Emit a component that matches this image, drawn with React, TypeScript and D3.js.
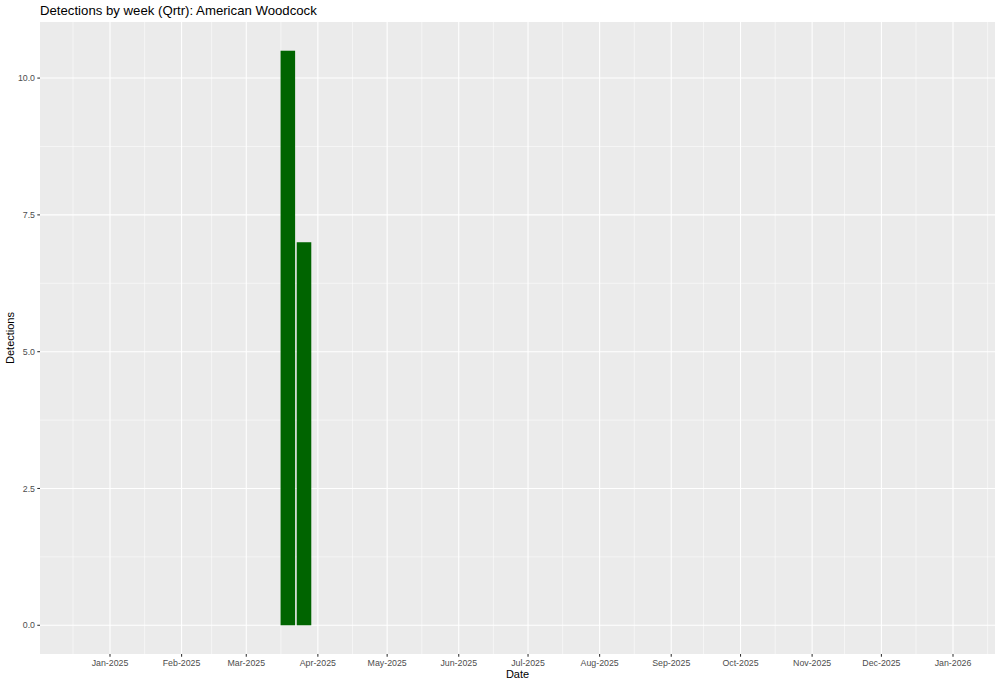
import React from "react";
import * as d3 from "d3";

const weekDates = ["2025-03-19", "2025-03-26"];
const detections = [10.5, 7];
const yTicks = [0, 2.5, 5, 7.5, 10];
const xTickDates = ["2025-01-01","2025-02-01","2025-03-01","2025-04-01","2025-05-01","2025-06-01","2025-07-01","2025-08-01","2025-09-01","2025-10-01","2025-11-01","2025-12-01","2026-01-01"];
const xMinorDates = ["2024-12-16","2025-01-16","2025-02-14","2025-03-16","2025-04-16","2025-05-16","2025-06-16","2025-07-16","2025-08-16","2025-09-15","2025-10-16","2025-11-15","2025-12-16","2026-01-16"];

const W = 1000, H = 685;
const left = 40, right = 995, top = 22, bottom = 654;
const parse = (s: string) => new Date(s + "T00:00:00Z");
const fmt = d3.utcFormat("%b-%Y");

export default function App() {
  const dayPx = (953 - 110) / 365;
  const jan = parse("2025-01-01").getTime();
  const d0 = new Date(jan - (110 - left) / dayPx * 864e5);
  const d1 = new Date(jan + (right - 110) / dayPx * 864e5);
  const x = d3.scaleUtc().domain([d0, d1]).range([left, right]);
  const y = d3.scaleLinear().domain([-0.525, 11.025]).range([bottom, top]);
  const yMinor = [1.25, 3.75, 6.25, 8.75];
  const barW = 6.3 * dayPx;
  const font = "'Liberation Sans', Arial, sans-serif";

  return (
    <svg width={W} height={H} style={{ position: "absolute", left: 0, top: 0, fontFamily: font }}>
      <rect x={0} y={0} width={W} height={H} fill="#fff" />
      <rect x={left} y={top} width={right - left} height={bottom - top} fill="#EBEBEB" />
      {yMinor.map((v) => (
        <line key={"ym" + v} x1={left} x2={right} y1={y(v)} y2={y(v)} stroke="#fff" strokeWidth={0.53} />
      ))}
      {xMinorDates.map((d) => (
        <line key={"xm" + d} x1={x(parse(d))} x2={x(parse(d))} y1={top} y2={bottom} stroke="#fff" strokeWidth={0.53} />
      ))}
      {yTicks.map((v) => (
        <line key={"y" + v} x1={left} x2={right} y1={y(v)} y2={y(v)} stroke="#fff" strokeWidth={1.07} />
      ))}
      {xTickDates.map((d) => (
        <line key={"x" + d} x1={x(parse(d))} x2={x(parse(d))} y1={top} y2={bottom} stroke="#fff" strokeWidth={1.07} />
      ))}
      {weekDates.map((d, i) => {
        const cx = x(parse(d));
        return (
          <rect key={d} x={cx - barW / 2} y={y(detections[i])} width={barW} height={y(0) - y(detections[i])} fill="#006400" />
        );
      })}
      {yTicks.map((v) => (
        <g key={"yt" + v}>
          <line x1={left - 2.7} x2={left} y1={y(v)} y2={y(v)} stroke="#333" strokeWidth={1.07} />
          <text x={left - 5} y={y(v)} dy="0.35em" textAnchor="end" fontSize={8.8} fill="#4D4D4D">{v.toFixed(1)}</text>
        </g>
      ))}
      {xTickDates.map((d) => (
        <g key={"xt" + d}>
          <line x1={x(parse(d))} x2={x(parse(d))} y1={bottom} y2={bottom + 2.7} stroke="#333" strokeWidth={1.07} />
          <text x={x(parse(d))} y={bottom + 11.5} textAnchor="middle" fontSize={8.8} fill="#4D4D4D">{fmt(parse(d))}</text>
        </g>
      ))}
      <text x={(left + right) / 2} y={678} textAnchor="middle" fontSize={11} fill="#000">Date</text>
      <text transform={`translate(14,${(top + bottom) / 2}) rotate(-90)`} textAnchor="middle" fontSize={11} fill="#000">Detections</text>
      <text x={40} y={15} fontSize={13.2} fill="#000">Detections by week (Qrtr): American Woodcock</text>
    </svg>
  );
}
